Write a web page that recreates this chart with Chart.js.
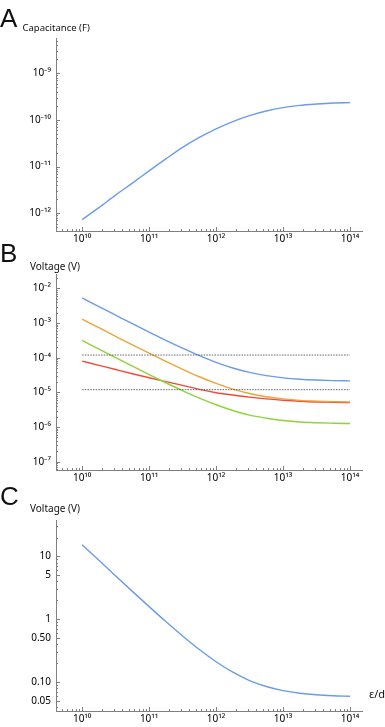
<!DOCTYPE html>
<html>
<head>
<meta charset="utf-8">
<script src="https://cdn.jsdelivr.net/npm/chart.js@4.4.1/dist/chart.umd.min.js"></script>
<style>
  body { margin: 0; background: #fff; width: 385px; height: 727px; position: relative; overflow: hidden; }
  canvas { position: absolute; left: 0; }
  .lbl { position: absolute; color: #111; white-space: nowrap; line-height: 1; font-family: "Noto Sans", sans-serif; z-index: 2; }
  .letter { font-family: "Liberation Sans", sans-serif; font-size: 26px; }
</style>
</head>
<body>
<canvas id="capChart" width="385" height="245" style="top:0"></canvas>
<canvas id="voltChart" width="385" height="245" style="top:245px"></canvas>
<canvas id="singleChart" width="385" height="237" style="top:490px"></canvas>

<div class="lbl letter" style="left:0;top:5px">A</div>
<div class="lbl" style="left:22.5px;top:23.3px;font-size:9.5px">Capacitance (F)</div>
<div class="lbl letter" style="left:0;top:240px">B</div>
<div class="lbl" style="left:30px;top:260.6px;font-size:10px">Voltage (V)</div>
<div class="lbl letter" style="left:0;top:483px">C</div>
<div class="lbl" style="left:30px;top:503.3px;font-size:10px">Voltage (V)</div>
<div class="lbl" style="left:369px;top:688px;font-size:11px">ε/d</div>

<script>
// x positions (epsilon/d), quarter decades from 1e10 to 1e14
const xVals = [1e10, 1.778e10, 3.162e10, 5.623e10, 1e11, 1.778e11, 3.162e11, 5.623e11,
  1e12, 1.778e12, 3.162e12, 5.623e12, 1e13, 1.778e13, 3.162e13, 5.623e13, 1e14]

// A. capacitance (F)
const capacitance = [7.3e-13, 1.32e-12, 2.45e-12, 4.42e-12, 8.1e-12, 1.46e-11, 2.58e-11, 4.21e-11,
  6.44e-11, 9.23e-11, 1.24e-10, 1.55e-10, 1.83e-10, 2.05e-10, 2.19e-10, 2.3e-10, 2.34e-10]

// B. voltage (V), four cases
const voltBlue = [5.32e-3, 3.0e-3, 1.7e-3, 9.64e-4, 5.51e-4, 3.19e-4, 1.89e-4, 1.15e-4,
  7.4e-5, 5.08e-5, 3.78e-5, 3.04e-5, 2.63e-5, 2.4e-5, 2.27e-5, 2.19e-5, 2.15e-5]
const voltOrange = [1.305e-3, 7.36e-4, 4.16e-4, 2.36e-4, 1.352e-4, 7.83e-5, 4.63e-5, 2.83e-5,
  1.82e-5, 1.25e-5, 9.3e-6, 7.5e-6, 6.5e-6, 5.9e-6, 5.6e-6, 5.4e-6, 5.3e-6]
const voltGreen = [3.17e-4, 1.79e-4, 1.01e-4, 5.74e-5, 3.28e-5, 1.9e-5, 1.12e-5, 6.8e-6,
  4.4e-6, 3.0e-6, 2.2e-6, 1.8e-6, 1.55e-6, 1.4e-6, 1.33e-6, 1.29e-6, 1.26e-6]
const voltRed = [8.0e-5, 6.05e-5, 4.57e-5, 3.46e-5, 2.64e-5, 2.05e-5, 1.6e-5, 1.22e-5,
  9.8e-6, 8.4e-6, 7.3e-6, 6.5e-6, 5.96e-6, 5.56e-6, 5.3e-6, 5.2e-6, 5.08e-6]
const thresholds = [1.2e-4, 1.2e-5]
const thresholdX = [1e10, 1e14]

// C. voltage (V)
const voltSingle = [15.3, 8.67, 4.9, 2.78, 1.59, 0.919, 0.542, 0.33,
  0.211, 0.144, 0.106, 0.0852, 0.0733, 0.0666, 0.0628, 0.0607, 0.0595]

// tick labels
const xTicks = [1e10, 1e11, 1e12, 1e13, 1e14]
const capTicks = [1e-12, 1e-11, 1e-10, 1e-9]
const voltTicks = [1e-7, 1e-6, 1e-5, 1e-4, 1e-3, 1e-2]
const singleTicks = [0.05, 0.1, 0.5, 1, 5, 10]
const singleLabels = ["0.05", "0.10", "0.50", "1", "5", "10"]

const sup = { "0": "⁰", "1": "¹", "2": "²", "3": "³", "4": "⁴", "5": "⁵", "6": "⁶", "7": "⁷", "8": "⁸", "9": "⁹", "-": "⁻" }
function powLabel(v) {
  const e = Math.round(Math.log10(v))
  return "10" + String(e).split("").map((c) => sup[c]).join("")
}

const AXIS = "#808080"
const tickFont = { family: "Noto Sans", size: 10 }

// ticks point into the plot, like the original
const innerTicks = {
  id: "innerTicks",
  afterDraw(chart, args, opts) {
    const ctx = chart.ctx
    ctx.save()
    ctx.strokeStyle = AXIS
    ctx.lineWidth = 1
    ;["x", "y"].forEach((id) => {
      const scale = chart.scales[id]
      const major = opts[id] || []
      const lo = Math.floor(Math.log10(scale.min))
      const hi = Math.ceil(Math.log10(scale.max))
      for (let n = lo; n <= hi; n++) {
        for (let m = 1; m <= 9; m++) {
          const v = m * Math.pow(10, n)
          if (v < scale.min || v > scale.max) continue
          const isMajor = major.some((t) => Math.abs(t - v) / t < 1e-6)
          const len = isMajor ? 4 : 2
          const p = Math.round(scale.getPixelForValue(v)) + 0.5
          ctx.beginPath()
          if (id === "x") {
            const y0 = chart.chartArea.bottom
            ctx.moveTo(p, y0)
            ctx.lineTo(p, y0 - len)
          } else {
            const x0 = chart.chartArea.left
            ctx.moveTo(x0, p)
            ctx.lineTo(x0 + len, p)
          }
          ctx.stroke()
        }
      }
    })
    ctx.restore()
  },
}

function series(ys, color) {
  return {
    data: xVals.map((x, i) => ({ x: x, y: ys[i] })),
    borderColor: color,
    borderWidth: 1.4,
    pointRadius: 0,
    cubicInterpolationMode: "monotone",
    fill: false,
  }
}

function hline(y) {
  return {
    data: thresholdX.map((x) => ({ x: x, y: y })),
    borderColor: "#555",
    borderWidth: 0.9,
    borderDash: [1.5, 1.2],
    pointRadius: 0,
    fill: false,
  }
}

function makeOptions(yMin, yMax, yTicks, yLabel, top, xHeight) {
  return {
    responsive: false,
    animation: false,
    layout: { padding: { top: top, right: 23, left: 0, bottom: 0 } },
    plugins: {
      legend: { display: false },
      tooltip: { enabled: false },
      innerTicks: { x: xTicks, y: yTicks },
    },
    scales: {
      x: {
        type: "logarithmic",
        min: 4.07e9,
        max: 1.51e14,
        afterBuildTicks: (axis) => {
          axis.ticks = xTicks.map((v) => ({ value: v }))
        },
        afterFit: (axis) => {
          axis.height = xHeight
        },
        grid: { display: true, drawOnChartArea: false, drawTicks: false },
        border: { display: true, color: AXIS, width: 1 },
        ticks: {
          autoSkip: false,
          maxRotation: 0,
          minRotation: 0,
          padding: 2,
          color: "#000",
          font: tickFont,
          callback: (v) => powLabel(v),
        },
      },
      y: {
        type: "logarithmic",
        min: yMin,
        max: yMax,
        afterBuildTicks: (axis) => {
          axis.ticks = yTicks.map((v) => ({ value: v }))
        },
        afterFit: (axis) => {
          axis.width = 56
        },
        grid: { display: true, drawOnChartArea: false, drawTicks: false },
        border: { display: true, color: AXIS, width: 1 },
        ticks: {
          autoSkip: false,
          padding: 5,
          color: "#000",
          font: tickFont,
          callback: yLabel,
        },
      },
    },
  }
}

new Chart(document.getElementById("capChart"), {
  type: "line",
  data: { datasets: [series(capacitance, "#6b9bea")] },
  options: makeOptions(4.17e-13, 5.6e-9, capTicks, (v) => powLabel(v), 38.3, 14),
  plugins: [innerTicks],
})

new Chart(document.getElementById("voltChart"), {
  type: "line",
  data: {
    datasets: [
      hline(thresholds[0]),
      hline(thresholds[1]),
      series(voltBlue, "#6b9bea"),
      series(voltOrange, "#eda43c"),
      series(voltGreen, "#8fd33a"),
      series(voltRed, "#f04a38"),
    ],
  },
  options: makeOptions(5.75e-8, 0.0257, voltTicks, (v) => powLabel(v), 29.3, 20),
  plugins: [innerTicks],
})

new Chart(document.getElementById("singleChart"), {
  type: "line",
  data: { datasets: [series(voltSingle, "#6b9bea")] },
  options: makeOptions(0.0347, 38, singleTicks, (v) => {
    const i = singleTicks.findIndex((t) => Math.abs(t - v) / t < 1e-6)
    return i >= 0 ? singleLabels[i] : ""
  }, 30, 16),
  plugins: [innerTicks],
})
</script>
</body>
</html>
